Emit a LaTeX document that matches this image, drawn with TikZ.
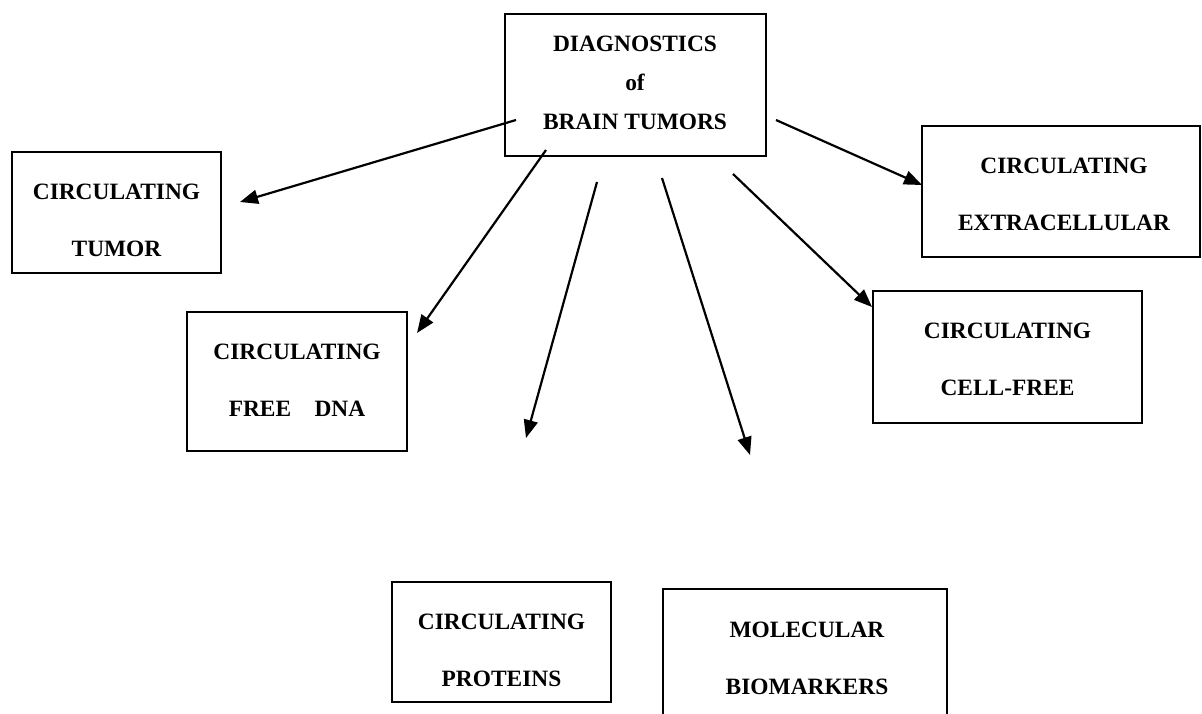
\documentclass[tikz,border=0pt]{standalone}
\usepackage{fontspec}
\setmainfont{Liberation Serif}
\usetikzlibrary{arrows.meta}
\usetikzlibrary{positioning}

\begin{document}
\begin{tikzpicture}[x=1pt,y=-1pt,
  box/.style={draw,line width=2pt,inner sep=0pt},
  txt/.style={font=\fontsize{23.4}{28}\selectfont\bfseries,align=center,inner sep=0pt},
  arr/.style={-{Triangle[length=18pt,width=14pt]},line width=2.2pt}]
\useasboundingbox (0,0) rectangle (1202,713);
\clip (0,0) rectangle (1202,713);
\node[box,minimum width=261pt,minimum height=142pt] (diag) at (635.5,85) {};
\node[txt] (diagtext) at (635,82.5) {DIAGNOSTICS\\[11pt]of\\[11pt]BRAIN TUMORS};
\node[box,minimum width=209pt,minimum height=121pt] (tumor) at (116.5,212.5) {};
\node[txt] (tumortext) at (116.5,220) {CIRCULATING\\[29pt]TUMOR};
\node[box,minimum width=220pt,minimum height=139pt] (dna) at (297,381.5) {};
\node[txt] (dnatext) at (297,380) {CIRCULATING\\[29pt]FREE\quad DNA};
\node[box,minimum width=219pt,minimum height=120pt] (prot) at (501.5,642) {};
\node[txt] (prottext) at (501.5,650) {CIRCULATING\\[29pt]PROTEINS};
\node[box,minimum width=284pt,minimum height=152pt] (mol) at (805,665) {};
\node[txt] (moltext) at (807,658) {MOLECULAR\\[29pt]BIOMARKERS};
\node[box,minimum width=278pt,minimum height=131pt] (extra) at (1061,191.5) {};
\node[txt] (extratext) at (1064,194) {CIRCULATING\\[29pt]EXTRACELLULAR};
\node[box,minimum width=269pt,minimum height=132pt] (cell) at (1007.5,357) {};
\node[txt] (celltext) at (1007.5,359) {CIRCULATING\\[29pt]CELL-FREE};
\coordinate (tumorfrom) at (516,120);
\coordinate (tumorto) at (240,202);
\coordinate (dnafrom) at (546,150);
\coordinate (dnato) at (417,333);
\coordinate (protfrom) at (597,182);
\coordinate (protto) at (526,438);
\coordinate (molfrom) at (662,178);
\coordinate (molto) at (750,455);
\coordinate (cellfrom) at (733,174);
\coordinate (cellto) at (872,307);
\coordinate (extrafrom) at (776,120);
\coordinate (extrato) at (922,185);
\draw[arr] (tumorfrom)--(tumorto);
\draw[arr] (dnafrom)--(dnato);
\draw[arr] (protfrom)--(protto);
\draw[arr] (molfrom)--(molto);
\draw[arr] (cellfrom)--(cellto);
\draw[arr] (extrafrom)--(extrato);
\end{tikzpicture}
\end{document}
